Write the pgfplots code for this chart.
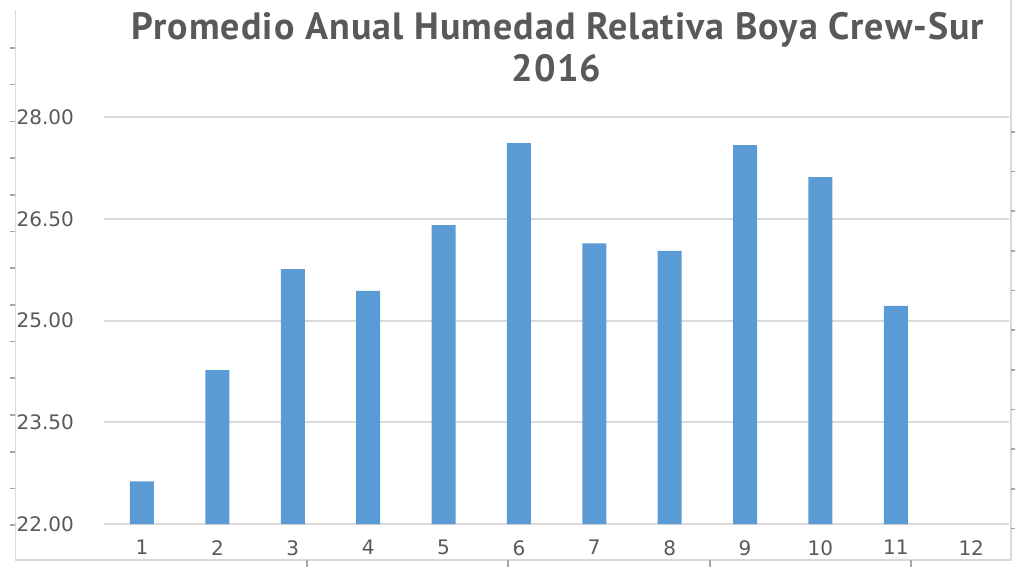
\documentclass[border=0pt]{standalone}
\usepackage{pgfplots}
\pgfplotsset{compat=1.18}
\usepackage{fontspec}
\setmainfont{DejaVu Sans}
\newfontfamily\titlefont[LetterSpace=2.8]{PT Sans}
\definecolor{barblue}{HTML}{5B9BD5}
\definecolor{textgray}{HTML}{595959}
\definecolor{gridgray}{HTML}{D9D9D9}
\definecolor{markgray}{HTML}{A6A6A6}
\begin{document}
\begin{tikzpicture}
\useasboundingbox (0,0) rectangle (507.5pt,283.5pt);
% sheet frame and stray cell marks
\draw[gridgray, line width=0.6pt] (7.75pt,278.5pt) -- (7.75pt,3.5pt) -- (505.5pt,3.5pt) -- (505.5pt,283.5pt);
\foreach \k in {0,...,13} \draw[markgray, line width=0.8pt] (5pt,{(567-48-36.7*\k)*0.5pt}) -- +(2.5pt,0);
\foreach \k in {0,...,10} \draw[markgray, line width=0.8pt] (505.5pt,{(567-132-39.65*\k)*0.5pt}) -- +(2pt,0);
\foreach \x in {307,508,710,911} \draw[markgray, line width=0.8pt] (\x*0.5pt,0) -- +(0,3.5pt);
\begin{axis}[
  at={(52.15pt,21.5pt)}, anchor=south west,
  scale only axis, width=452.3pt, height=203.3pt,
  xmin=0.5, xmax=12.5, ymin=22, ymax=28,
  xtick={1,...,12}, ytick={22,23.5,25,26.5,28},
  ymajorgrids, grid style={gridgray, line width=1pt},
  axis line style={draw=none}, major tick length=0pt,
  tick label style={font=\fontsize{10}{12}\selectfont, text=textgray},
  /pgf/number format/assume math mode=true,
  y tick label style={/pgf/number format/fixed, /pgf/number format/fixed zerofill, /pgf/number format/precision=2},
  every x tick label/.append style={inner sep=0pt, yshift=-8pt},
  every y tick label/.append style={inner sep=0pt, xshift=-15pt},
  ybar, bar width=12pt, bar shift=0pt,
]
\addplot[fill=barblue, draw=none] coordinates {
  (1,22.63) (2,24.27) (3,25.76) (4,25.44) (5,26.41) (6,27.62)
  (7,26.14) (8,26.03) (9,27.59) (10,27.12) (11,25.22)
};
\end{axis}
\node[anchor=base, text=textgray, font=\titlefont\bfseries\fontsize{19}{22}\selectfont] at (279pt,263.5pt) {Promedio Anual Humedad Relativa Boya Crew-Sur};
\node[anchor=base, text=textgray, font=\titlefont\bfseries\fontsize{19}{22}\selectfont] at (278.3pt,242.6pt) {2016};
\end{tikzpicture}
\end{document}
